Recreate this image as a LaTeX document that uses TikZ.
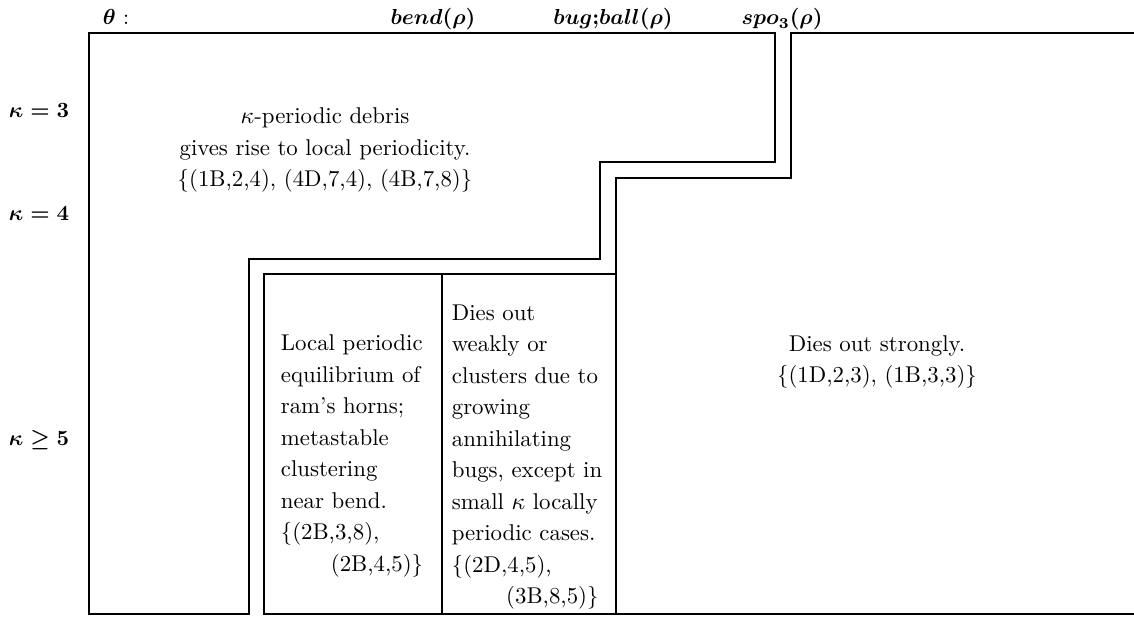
\documentclass[tikz,border=0pt]{standalone}
\usepackage{amsmath}
\usepackage{amssymb}
\usetikzlibrary{positioning}

\begin{document}
\begin{tikzpicture}[x=0.46pt,y=-0.46pt,line width=0.8pt,
        every node/.style={inner sep=0pt,font=\fontsize{10.5}{14.5}\selectfont},
        axislabel/.style={font=\fontsize{10}{14.5}\selectfont\boldmath},
        cell/.style={align=left,anchor=west},
        area/.style={align=center,anchor=center}]
      \useasboundingbox (0,0) rectangle (1134,618);
      % theta along the top
      \node[axislabel,anchor=base west] (theta) at (102,25) {$\theta$ :};
      \node[axislabel,anchor=base] (bend) at (433,25) {$bend(\rho)$};
      \node[axislabel,anchor=base] (bugball) at (613,25) {$bug{;}ball(\rho)$};
      \node[axislabel,anchor=base] (spo) at (782,25) {$spo_3(\rho)$};
      % kappa down the side
      \node[axislabel,anchor=west] (k3) at (8,110) {$\kappa=3$};
      \node[axislabel,anchor=west] (k4) at (8,213) {$\kappa=4$};
      \node[axislabel,anchor=west] (k5) at (8,440) {$\kappa\geq5$};
      % regions
      \draw (775,33) -- (89,33) -- (89,614) -- (249,614) -- (249,259)
        -- (600,259) -- (600,162) -- (775,162) -- cycle;
      \draw (1134,33) -- (791,33) -- (791,178) -- (616,178) -- (616,614);
      \draw (616,274) -- (264,274) -- (264,614) -- (1134,614);
      \draw (442,274) -- (442,614);
      % texts
      \node[area] (debris) at (325,150)
        {$\kappa$-periodic debris\\gives rise to local periodicity.\\
         \{(1B,2,4), (4D,7,4), (4B,7,8)\}};
      \node[cell] (ramshorn) at (280,456)
        {Local periodic\\equilibrium of\\ram's horns;\\metastable\\clustering\\
         near bend.\\\{(2B,3,8),\\\hspace*{23pt}(2B,4,5)\}};
      \node[cell] (weakly) at (451,457)
        {Dies out\\weakly or\\clusters due to\\growing\\annihilating\\
         bugs, except in\\small $\kappa$ locally\\periodic cases.\\
         \{(2D,4,5),\\\hspace*{25pt}(3B,8,5)\}};
      \node[area] (strongly) at (877,362)
        {Dies out strongly.\\\{(1D,2,3), (1B,3,3)\}};
\end{tikzpicture}
\end{document}
